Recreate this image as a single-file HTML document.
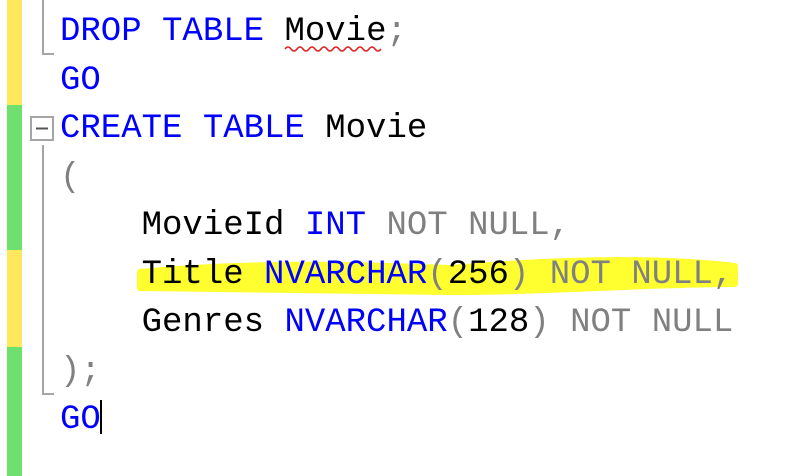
<!DOCTYPE html>
<html><head><style>
body{margin:0;width:796px;height:476px;background:#fff;position:relative;overflow:hidden;font-family:"Liberation Mono",monospace;}
.m{position:absolute;left:7px;width:15px}
pre{position:absolute;left:60px;top:8px;margin:0;font-size:34px;line-height:48.5px;color:#000;font-family:"Liberation Mono",monospace}
.b{color:#0000ff}.g{color:#808080}
</style></head><body>
<div class="m" style="top:0;height:105px;background:#ffe85c"></div>
<div class="m" style="top:105px;height:145px;background:#6ee06e"></div>
<div class="m" style="top:250px;height:97px;background:#ffe85c"></div>
<div class="m" style="top:347px;height:129px;background:#6ee06e"></div>
<svg style="position:absolute;left:0;top:0" width="796" height="476">
<path d="M140 272 C250 262 350 264 450 268 C550 260 650 256 735 266 L735 284 C650 284 550 292 450 292 C350 290 250 290 140 288 Z" fill="#ffff30" stroke="#ffff30" stroke-width="6" stroke-linejoin="round"/>
<path d="M43 0 V54 H54" fill="none" stroke="#a5a5a5" stroke-width="2"/>
<rect x="31" y="117" width="22" height="23" fill="#fff" stroke="#a5a5a5" stroke-width="2"/>
<line x1="36" y1="128.5" x2="48" y2="128.5" stroke="#555" stroke-width="2"/>
<path d="M43 145 V394 H54" fill="none" stroke="#a5a5a5" stroke-width="2"/>
<path d="M285 49 q3-4 6 0 t6 0 t6 0 t6 0 t6 0 t6 0 t6 0 t6 0 t6 0 t6 0 t6 0 t6 0 t6 0 t6 0 t6 0 t6 0" fill="none" stroke="#e02020" stroke-width="1.5"/>
<rect x="100" y="400" width="2" height="34" fill="#000"/>
</svg>
<pre><span class="b">DROP TABLE</span> Movie<span class="g">;</span>
<span class="b">GO</span>
<span class="b">CREATE TABLE</span> Movie
<span class="g">(</span>
    MovieId <span class="b">INT</span> <span class="g">NOT NULL,</span>
    Title <span class="b">NVARCHAR</span><span class="g">(</span>256<span class="g">) NOT NULL,</span>
    Genres <span class="b">NVARCHAR</span><span class="g">(</span>128<span class="g">) NOT NULL</span>
<span class="g">);</span>
<span class="b">GO</span></pre>
</body></html>
